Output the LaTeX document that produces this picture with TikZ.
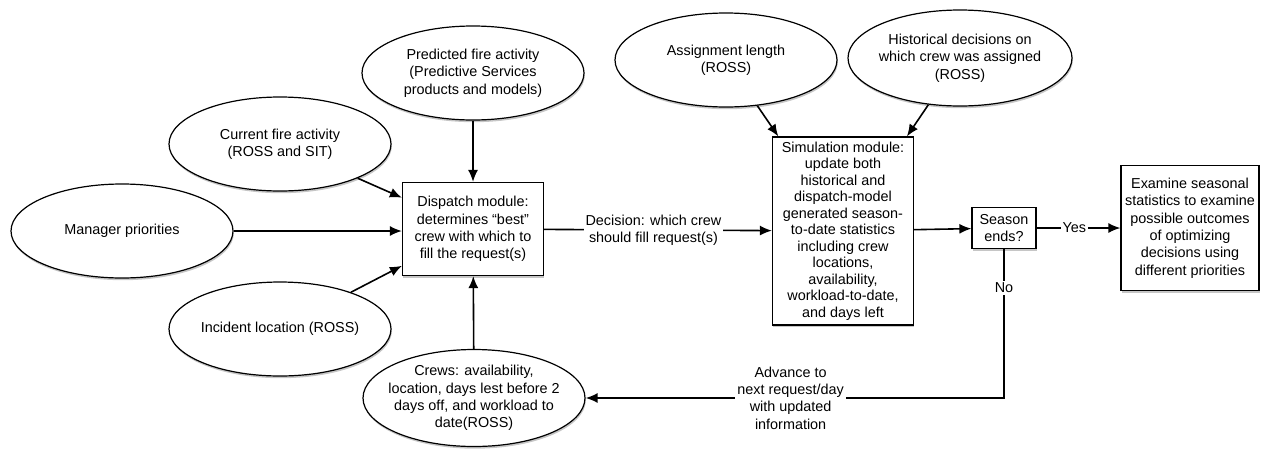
\documentclass[tikz,border=0pt]{standalone}
\usepackage{fontspec}
\setmainfont{Liberation Sans}
\usetikzlibrary{shapes.geometric,shadows,arrows.meta}
\begin{document}
\begin{tikzpicture}[x=0.5pt,y=-0.5pt]
\fontsize{7.2}{8.7}\selectfont

\tikzstyle{source} = [draw, ellipse, fill=white, line width=0.6pt, inner xsep=-12pt, inner ysep=-6pt, minimum width=111pt, minimum height=47pt, align=center, drop shadow={shadow xshift=0.4pt, shadow yshift=-1.1pt, opacity=0.45}]
\tikzstyle{module} = [draw, rectangle, fill=white, line width=0.6pt, inner sep=1pt, align=center, drop shadow={shadow xshift=0.4pt, shadow yshift=-1.1pt, opacity=0.45}]
\tikzstyle{flow}   = [-{Latex[length=6pt,width=5pt]}, line width=0.8pt]
\tikzstyle{lbl}    = [fill=white, inner sep=1pt, align=center]

\useasboundingbox (0,0) rectangle (1261,450);

\node [source] (PredFire)  at (473,73)  {Predicted fire activity\\(Predictive Services\\products and models)};
\node [source] (CurFire)   at (280,144) {Current fire activity\\(ROSS and SIT)};
\node [source] (MgrPrio)   at (122,231) {Manager priorities};
\node [source] (IncLoc)    at (280,329) {Incident location (ROSS)};
\node [source, minimum height=48.5pt] (Crews) at (474,398) {Crews: availability,\\location, days lest before 2\\days off, and workload to\\date(ROSS)};
\node [source] (AssignLen) at (726,60)  {Assignment length\\(ROSS)};
\node [source, minimum width=112pt, minimum height=48pt] (HistDec) at (960,58) {Historical decisions on\\which crew was assigned\\(ROSS)};

\node [module, minimum width=70.5pt, minimum height=46.5pt] (Dispatch) at (473,229) {Dispatch module:\\determines “best”\\crew with which to\\fill the request(s)};
\node [module, minimum width=70.5pt, minimum height=94pt, font=\fontsize{7.2}{8.25}\selectfont] (SimMod) at (843,231) {Simulation module:\\update both\\historical and\\dispatch-model\\generated season-\\to-date statistics\\including crew\\locations,\\availability,\\workload-to-date,\\and days left};
\node [module, minimum width=32pt, minimum height=20.5pt] (SeasonEnd) at (1004,228) {Season\\ends?};
\node [module, minimum width=69pt, minimum height=62.5pt] (Examine) at (1190,228) {Examine seasonal\\statistics to examine\\possible outcomes\\of optimizing\\decisions using\\different priorities};

\draw [flow] (PredFire) -- (Dispatch);
\draw [flow] (CurFire) -- (Dispatch);
\draw [flow] (MgrPrio.east) -- (MgrPrio.east -| Dispatch.west);
\draw [flow] (IncLoc) -- (Dispatch);
\draw [flow] (Crews) -- (Dispatch);
\draw [flow] (Dispatch) -- node [lbl, pos=0.48] {Decision: which crew\\should fill request(s)} (SimMod);
\draw [flow] (AssignLen) -- (SimMod);
\draw [flow] (HistDec) -- (SimMod);
\draw [flow] (SimMod) -- (SeasonEnd);
\draw [flow] (SeasonEnd) -- node [lbl, pos=0.45] {Yes} (Examine);
\draw [flow] (SeasonEnd.south) |- node [lbl, pos=0.13] {No} node [lbl, pos=0.755] {Advance to\\next request/day\\with updated\\information} (Crews.east);
\end{tikzpicture}
\end{document}
